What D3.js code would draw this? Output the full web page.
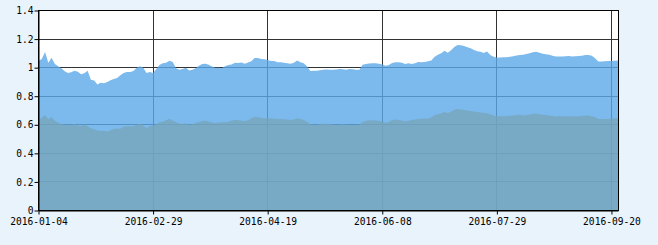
<!DOCTYPE html>
<meta charset="utf-8">
<script src="https://d3js.org/d3.v7.min.js"></script>
<style>
	body { margin: 0; background: #e8f3fb; }
	text { font-family: "DejaVu Sans Mono", monospace; font-size: 9.6px; fill: #000; }
</style>
<body>
<div id="chart"></div>
<script>

	// dias de pregao: seg-sex sem feriados
	var startDay = "2016-01-04";
	var endDay = "2016-09-22";
	var holidays = ["2016-01-01","2016-02-08","2016-02-09","2016-02-10","2016-02-11","2016-02-12",
		"2016-04-04","2016-05-02","2016-06-09","2016-06-10","2016-09-15","2016-09-16"];

	var tickDates = ["2016-01-04","2016-02-29","2016-04-19","2016-06-08","2016-07-29","2016-09-20"];
	var yTicks = [0, 0.2, 0.4, 0.6, 0.8, 1, 1.2, 1.4];
	var yLabels = ["0", "0.2", "0.4", "0.6", "0.8", "1", "1.2", "1.4"];

	// serie superior (azul)
	var upper = [
		1.047,1.06,1.11,1.035,1.07,1.025,1.01,0.995,0.975,0.963,
		0.968,0.978,0.972,0.953,0.96,0.978,0.915,0.91,0.882,0.895,
		0.89,0.9,0.912,0.92,0.928,0.947,0.962,0.97,0.97,0.976,
		1.0,1.01,1.0,0.962,0.97,0.962,0.99,1.02,1.03,1.034,
		1.048,1.04,0.996,0.985,0.99,1.0,0.98,0.986,0.995,1.013,
		1.026,1.028,1.02,1.008,1.0,1.0,0.997,1.01,1.018,1.022,
		1.034,1.033,1.036,1.027,1.036,1.045,1.067,1.068,1.06,1.058,
		1.054,1.047,1.046,1.038,1.038,1.035,1.03,1.028,1.035,1.05,
		1.038,1.03,1.01,0.977,0.978,0.979,0.981,0.985,0.987,0.985,
		0.985,0.987,0.991,0.988,0.986,0.99,0.988,0.985,0.985,1.02,
		1.026,1.029,1.03,1.03,1.027,1.022,1.013,1.018,1.033,1.038,
		1.038,1.035,1.026,1.03,1.026,1.03,1.04,1.038,1.04,1.045,
		1.05,1.077,1.09,1.1,1.118,1.105,1.122,1.145,1.158,1.156,
		1.151,1.142,1.136,1.124,1.115,1.111,1.103,1.113,1.089,1.077,
		1.07,1.071,1.072,1.072,1.076,1.079,1.085,1.088,1.09,1.096,
		1.1,1.107,1.111,1.105,1.098,1.093,1.09,1.084,1.078,1.078,
		1.078,1.08,1.081,1.078,1.08,1.082,1.084,1.089,1.088,1.083,
		1.065,1.043,1.043,1.045,1.047,1.047,1.048,1.05
	];

	// serie inferior (cinza)
	var lower = [
		0.633,0.65,0.668,0.638,0.655,0.628,0.615,0.606,0.598,0.597,
		0.598,0.605,0.593,0.592,0.604,0.59,0.576,0.568,0.56,0.556,
		0.558,0.552,0.561,0.573,0.572,0.573,0.586,0.59,0.59,0.59,
		0.6,0.608,0.594,0.577,0.592,0.594,0.604,0.617,0.621,0.632,
		0.643,0.63,0.618,0.609,0.606,0.61,0.599,0.606,0.613,0.62,
		0.626,0.628,0.623,0.616,0.613,0.616,0.617,0.618,0.621,0.63,
		0.633,0.633,0.629,0.627,0.632,0.645,0.656,0.652,0.648,0.646,
		0.645,0.645,0.643,0.641,0.64,0.638,0.637,0.634,0.637,0.645,
		0.64,0.634,0.621,0.604,0.6,0.6,0.603,0.606,0.608,0.604,
		0.602,0.598,0.6,0.603,0.6,0.598,0.598,0.598,0.6,0.621,
		0.627,0.632,0.632,0.63,0.628,0.623,0.615,0.62,0.633,0.637,
		0.634,0.63,0.625,0.629,0.633,0.637,0.64,0.642,0.644,0.642,
		0.652,0.667,0.674,0.68,0.69,0.683,0.692,0.705,0.71,0.707,
		0.704,0.7,0.697,0.693,0.69,0.686,0.682,0.68,0.674,0.665,
		0.66,0.66,0.66,0.661,0.663,0.665,0.668,0.67,0.667,0.666,
		0.672,0.677,0.678,0.674,0.67,0.668,0.665,0.662,0.658,0.659,
		0.66,0.66,0.66,0.659,0.658,0.66,0.662,0.665,0.663,0.66,
		0.655,0.64,0.64,0.64,0.641,0.643,0.644,0.645
	];

	var width = 658;
	var height = 245;
	var padL = 38.5, padR = 618.5, padT = 10.5, padB = 210.5;

	var fmt = d3.utcFormat("%Y-%m-%d");
	var parse = d3.utcParse("%Y-%m-%d");

	// monta a lista de dias
	var days = d3.utcDay.range(parse(startDay), d3.utcDay.offset(parse(endDay), 1))
		.filter(function(d){ return d.getUTCDay() != 0 && d.getUTCDay() != 6; })
		.map(fmt)
		.filter(function(d){ return holidays.indexOf(d) < 0; });

	var data = days.map(function(d, i){ return {day: d, up: upper[i], low: lower[i]}; });

	var svg = d3.select("#chart")
		.append("svg")
			.attr("width", width)
			.attr("height", height)
			.style("display", "block")
			.style("background", "#e8f3fb");

	var x = d3.scalePoint()
		.domain(days)
		.range([padL, padR - 0.5]);

	var y = d3.scaleLinear()
		.domain([0, 1.4])
		.range([padB, padT]);

	// fundo branco da area do grafico
	svg.append("rect")
		.attr("x", padL)
		.attr("y", padT)
		.attr("width", padR - padL)
		.attr("height", padB - padT)
		.attr("fill", "#fff");

	// grade
	svg.append("g").selectAll("line")
		.data(yTicks)
		.enter()
		.append("line")
		.attr("x1", padL).attr("x2", padR)
		.attr("y1", function(d){ return Math.round(y(d) - 0.5) + 0.5; })
		.attr("y2", function(d){ return Math.round(y(d) - 0.5) + 0.5; })
		.attr("stroke", "#333");

	svg.append("g").selectAll("line")
		.data(tickDates)
		.enter()
		.append("line")
		.attr("x1", function(d){ return Math.round(x(d) - 0.5) + 0.5; })
		.attr("x2", function(d){ return Math.round(x(d) - 0.5) + 0.5; })
		.attr("y1", padT).attr("y2", padB)
		.attr("stroke", "#333");

	// areas
	var areaUp = d3.area()
		.x(function(d){ return x(d.day); })
		.y0(y(0))
		.y1(function(d){ return y(d.up); });

	var areaLow = d3.area()
		.x(function(d){ return x(d.day); })
		.y0(y(0))
		.y1(function(d){ return y(d.low); });

	svg.append("path")
		.datum(data)
		.attr("d", areaUp)
		.attr("fill", "rgb(91,167,231)")
		.attr("fill-opacity", 0.8);

	svg.append("path")
		.datum(data)
		.attr("d", areaLow)
		.attr("fill", "rgb(119,165,185)")
		.attr("fill-opacity", 0.75);

	// moldura
	svg.append("rect")
		.attr("x", padL)
		.attr("y", padT)
		.attr("width", padR - padL)
		.attr("height", padB - padT)
		.attr("fill", "none")
		.attr("stroke", "#000");

	// eixos
	var xAxis = svg.append("g")
		.attr("transform", "translate(0," + padB + ")")
		.call(d3.axisBottom(x).tickValues(tickDates).tickSize(4).tickSizeOuter(0));

	var yAxis = svg.append("g")
		.attr("transform", "translate(" + padL + ",0)")
		.call(d3.axisLeft(y).tickValues(yTicks).tickSize(4).tickSizeOuter(0)
			.tickFormat(function(d, i){ return yLabels[i]; }));

	svg.selectAll(".domain").attr("stroke", "#000");
	svg.selectAll(".tick line").attr("stroke", "#000");
	xAxis.selectAll("text").attr("dy", "0.75em").attr("y", 7);
	yAxis.selectAll("text").attr("x", -5);
	svg.selectAll(".tick text").attr("fill", "#000").style("font-family", "'DejaVu Sans Mono', monospace").style("font-size", "9.6px");

</script>
</body>
